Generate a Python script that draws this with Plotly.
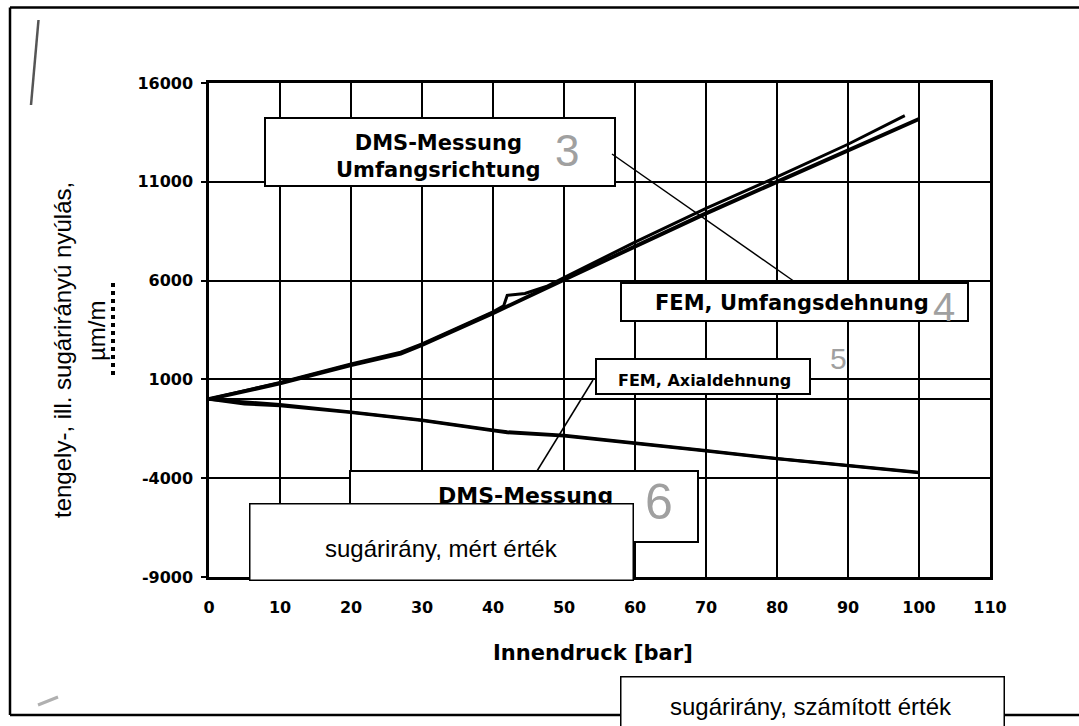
import plotly.graph_objects as go

# ---------------- data ----------------
pressure_fem = [0, 10, 20, 27, 30, 40, 50, 60, 70, 80, 90, 100]
umfang_fem = [0, 800, 1720, 2300, 2740, 4350, 6050, 7750, 9400, 11000, 12600, 14180]

pressure_dms_umfang = [0, 10, 20, 27, 30, 40, 41.5, 42, 44.5, 47.5, 50, 60, 70, 80, 90, 98]
umfang_dms = [0, 850, 1780, 2380, 2800, 4420, 4720, 5250, 5350, 5700, 6150, 7950, 9650, 11250, 12900, 14350]

pressure_axial = [0, 5, 10, 20, 30, 40, 42, 50, 60, 70, 80, 90, 100]
axial_fem = [0, -150, -270, -650, -1060, -1560, -1650, -1830, -2200, -2600, -3000, -3350, -3700]
axial_dms = [0, -250, -330, -680, -1080, -1600, -1700, -1860, -2230, -2620, -3020, -3380, -3720]

x_ticks = [0, 10, 20, 30, 40, 50, 60, 70, 80, 90, 100, 110]
y_ticks = [-9000, -4000, 1000, 6000, 11000, 16000]
y_tick_text = ["-9000", "-4000", "1000", "6000", "11000", "16000"]

x_title = "Innendruck [bar]"
y_title_1 = "tengely-, ill. sugárirányú nyúlás,"
y_title_2 = "µm/m"
label_dms_umfang = "DMS-Messung<br>Umfangsrichtung"
label_fem_umfang = "FEM, Umfangsdehnung"
label_fem_axial = "FEM, Axialdehnung"
label_dms_axial = "DMS-Messung"
overlay_measured = "sugárirány, mért érték"
overlay_computed = "sugárirány, számított érték"
hand_digits = ["3", "4", "5", "6"]

# ---------------- layout geometry (pixels) ----------------
W, H = 1079, 726
L, T, PW, PH = 209, 83, 781, 494


def px(xp):
    return (xp - L) / PW


def py(yp):
    return 1 - (yp - T) / PH


BOLD = "DejaVu Sans"
ARIAL = "Liberation Sans, Arial, sans-serif"
HAND = "Liberation Sans Narrow, Liberation Sans, sans-serif"
HAND_COLOR = "#a0a0a0"

fig = go.Figure()
for xs, ys, w in [
    (pressure_fem, umfang_fem, 4.0),
    (pressure_dms_umfang, umfang_dms, 3.0),
    (pressure_axial, axial_fem, 3.0),
    (pressure_axial, axial_dms, 3.0),
]:
    fig.add_trace(go.Scatter(x=xs, y=ys, mode="lines",
                             line=dict(color="black", width=w),
                             showlegend=False, hoverinfo="skip"))

shapes = []


def rect(x0, y0, x1, y1, lw=2, fill="white"):
    shapes.append(dict(type="rect", xref="paper", yref="paper",
                       x0=px(x0), x1=px(x1), y0=py(y1), y1=py(y0),
                       line=dict(color="black", width=lw),
                       fillcolor=fill, layer="above"))


def seg(x0, y0, x1, y1, lw=1.5, color="black", dash="solid"):
    shapes.append(dict(type="line", xref="paper", yref="paper",
                       x0=px(x0), x1=px(x1), y0=py(y0), y1=py(y1),
                       line=dict(color=color, width=lw, dash=dash), layer="above"))


# outer frame of the scanned page (top, left, bottom edges)
seg(10, 7.5, 1079, 7.5, lw=2.5)
seg(10, 7.5, 10, 715, lw=2.5)
seg(10, 715, 1079, 715, lw=2.5)

# label boxes
rect(265, 118, 615, 186)      # DMS-Messung Umfangsrichtung
rect(621, 283, 968, 321)      # FEM, Umfangsdehnung
rect(596, 359, 810, 394)      # FEM, Axialdehnung
rect(350, 471, 698, 542)      # DMS-Messung (lower)

# connector lines
seg(612, 154, 795, 282)
seg(593, 380, 537, 471)

# pen strokes / scan artifacts
seg(38.5, 20, 31, 105, lw=2.5, color="#555555")
seg(38, 705, 58, 697, lw=3, color="#b0b0b0")
seg(113, 283, 113, 375, lw=4, color="black", dash="dot")

annotations = []


def text(x, y, s, size, family, color="black", angle=0):
    annotations.append(dict(xref="paper", yref="paper", x=px(x), y=py(y),
                            xanchor="center", yanchor="middle", showarrow=False,
                            text=s, textangle=angle,
                            font=dict(family=family, size=size, color=color)))


def box(x0, y0, x1, y1):
    annotations.append(dict(xref="paper", yref="paper", x=px((x0 + x1) / 2), y=py((y0 + y1) / 2),
                            xanchor="center", yanchor="middle", showarrow=False,
                            text=" ", width=x1 - x0 - 2, height=y1 - y0 - 2,
                            bgcolor="white", bordercolor="black", borderwidth=1.5, borderpad=0,
                            font=dict(size=4)))


# axis titles
text(62, 350, y_title_1, 24, ARIAL, angle=-90)
text(96, 331, y_title_2, 24, ARIAL, angle=-90)
text(593, 653, "<b>" + x_title + "</b>", 21, BOLD)

# box texts
text(438, 156, "<b>" + label_dms_umfang + "</b>", 21, BOLD)
text(567, 150, hand_digits[0], 44, HAND, color=HAND_COLOR)
text(792, 303, "<b>" + label_fem_umfang + "</b>", 21, BOLD)
text(944, 307, hand_digits[1], 40, HAND, color=HAND_COLOR)
text(838, 358, hand_digits[2], 30, HAND, color=HAND_COLOR)
text(704, 380, "<b>" + label_fem_axial + "</b>", 16, BOLD)
text(525, 495, "<b>" + label_dms_axial + "</b>", 22, BOLD)
text(659, 502, hand_digits[3], 50, HAND, color=HAND_COLOR)

# overlay boxes (typed later over the scan)
box(249, 503, 633, 580)
text(441, 548, overlay_measured, 24, ARIAL)
box(620, 676, 1004, 740)
text(811, 706, overlay_computed, 24, ARIAL)

fig.update_layout(
    width=W, height=H,
    margin=dict(l=L, r=W - L - PW, t=T, b=H - T - PH, autoexpand=False),
    paper_bgcolor="white", plot_bgcolor="white",
    showlegend=False,
    shapes=shapes, annotations=annotations,
    xaxis=dict(range=[0, 110], tickvals=x_ticks, showgrid=True, gridcolor="black", gridwidth=2,
               showline=True, linecolor="black", linewidth=2.5, mirror=True, ticks="",
               zeroline=False, ticklabelstandoff=14,
               tickfont=dict(family=BOLD, size=16, color="black", weight="bold")),
    yaxis=dict(range=[-9000, 16000], tickvals=y_ticks, ticktext=y_tick_text,
               showgrid=True, gridcolor="black", gridwidth=2,
               showline=True, linecolor="black", linewidth=2.5, mirror=True,
               ticks="outside", ticklen=5, tickwidth=2, tickcolor="black",
               zeroline=True, zerolinecolor="black", zerolinewidth=2, ticklabelstandoff=5,
               tickfont=dict(family=BOLD, size=16, color="black", weight="bold")),
)

fig.write_html("out.html", config={"displayModeBar": False},
               post_script="document.body.style.margin='0px';")
